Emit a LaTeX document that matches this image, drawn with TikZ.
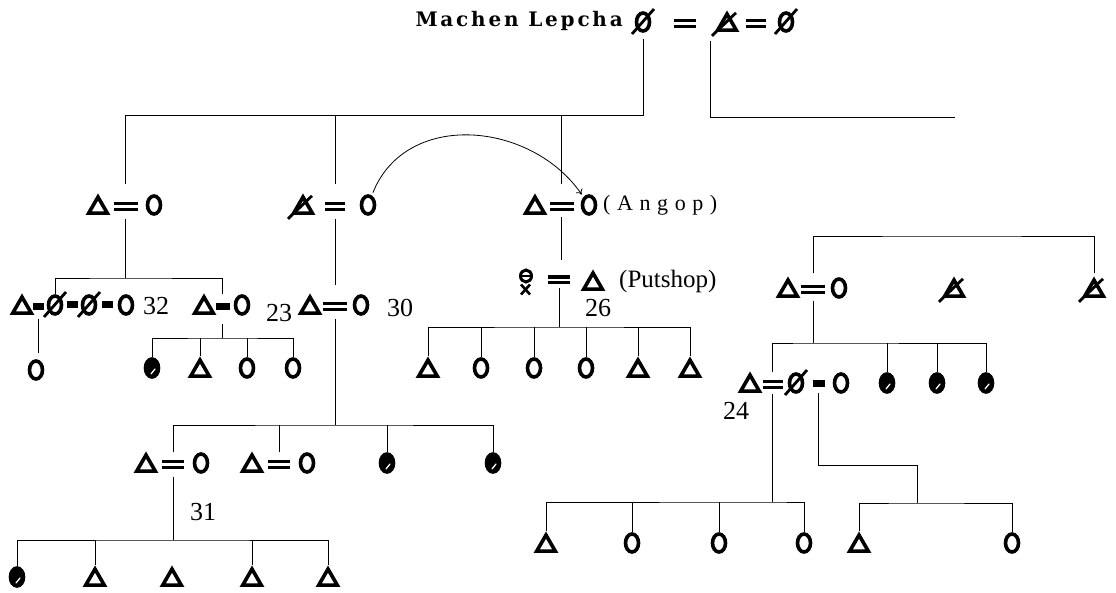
\documentclass[tikz,border=0pt]{standalone}
\usepackage{fontspec}
\setmainfont{Liberation Serif}
\newfontfamily\titlefont[LetterSpace=14]{DejaVu Serif}
\newfontfamily\widefont[LetterSpace=30]{Liberation Serif}
\usetikzlibrary{shapes.geometric,arrows.meta,calc}

\begin{document}
\begin{tikzpicture}[x=1pt,y=-1pt,
    kin/.style={line width=0.8pt},
    male/.style={draw, regular polygon, regular polygon sides=3, minimum size=21.5pt,
        inner sep=0pt, line width=3.6pt, yshift=-2.8pt},
    fem/.style={draw, ellipse, minimum width=13pt, minimum height=18pt,
        inner sep=0pt, line width=3.6pt},
    fdied/.style={fem, fill=black, path picture={\draw[white, line width=1.3pt, line cap=round]
        ([shift={(-1,6)}]path picture bounding box.center) -- ([shift={(3,1)}]path picture bounding box.center);}},
    slash/.style={line width=2.8pt},
    mdead/.style={male, append after command={([shift={(-15,11)}]\tikzlastnode.center)
        edge[slash] ([shift={(9,-12)}]\tikzlastnode.center)}},
    fdead/.style={fem, append after command={([shift={(-11,12)}]\tikzlastnode.center)
        edge[slash] ([shift={(11,-13)}]\tikzlastnode.center)}},
    pwife/.style={draw, ellipse, minimum width=11pt, minimum height=12pt, inner sep=0pt, line width=3pt,
        path picture={\draw[line width=1.8pt] ([xshift=-6pt]path picture bounding box.center)
            -- ([xshift=6pt]path picture bounding box.center);},
        append after command={([shift={(-5,1)}]\tikzlastnode.south) edge[line width=2.6pt] ([shift={(4,11)}]\tikzlastnode.south)
            ([shift={(4,1)}]\tikzlastnode.south) edge[line width=2.6pt] ([shift={(-5,11)}]\tikzlastnode.south)}},
    wed/.style={line width=3.3pt, double=white, double distance=2.4pt},
    wedb/.style={line width=7pt},
    num/.style={inner sep=0pt, font=\fontsize{26}{26}\selectfont},
    lbl/.style={inner sep=0pt, font=\widefont\fontsize{22}{22}\selectfont}]
\useasboundingbox (0,0) rectangle (1116,593);

% Machen Lepcha and his two wives
\node[inner sep=0pt, anchor=east, font=\titlefont\bfseries\fontsize{20}{20}\selectfont] (title) at (623,21) {Machen Lepcha};
\node[fdead] (mw1) at (643,22) {};
\node[mdead] (ml) at (727,22) {};
\node[fdead] (mw2) at (786,22) {};
\path (mw1) -- coordinate[midway] (m0a) (ml);
\path (ml) -- coordinate[midway] (m0b) (mw2);
\draw[wed] (m0a) +(-11,0) -- +(11,0);
\draw[wed] (m0b) +(-10,0) -- +(10,0);

% sons of the first wife
\node[male] (a1h) at (98,205) {};
\node[fem] (a1w) at (154,205) {};
\node[mdead] (a2h) at (303,205) {};
\node[fem] (a2w) at (368,205) {};
\node[male] (a3h) at (535,205) {};
\node[fem] (a3w) at (589,205) {};
\node[lbl, anchor=west] (angop) at (603,205) {(Angop)};
\path (a1h) -- coordinate[midway] (m1) (a1w);
\path (a2h) -- coordinate[midway] (m2) (a2w);
\path (a3h) -- coordinate[midway] (m3) (a3w);
\draw[wed] (m1) +(-12,0) -- +(12,0);
\draw[wed] (m2) +(-10,0) -- +(10,0);
\draw[wed] (m3) +(-12,0) -- +(12,0);
\draw[kin, -{To[length=5pt,width=8pt]}, shorten <=3pt, shorten >=3pt]
    (a2w) .. controls +(38,-95) and +(-58,-84) .. (a3w);

\coordinate (b0) at (643,115);
\draw[kin, shorten <=6pt, shorten >=22pt] (mw1) -- (b0) -| (m1);
\draw[kin, shorten >=22pt] (m2 |- b0) -- (m2);
\draw[kin, shorten >=22pt] (m3 |- b0) -- (m3);
\coordinate (b1a) at (710,117);
\coordinate (b1) at (955,117);
\draw[kin, shorten <=9pt] (b1a |- ml.south) -- (b1a) -- (b1);

% second generation
\node[male] (g1) at (22,305) {};
\node[fdead] (g2) at (55,305) {};
\node[fdead] (g3) at (89,305) {};
\node[fem] (g4) at (126,305) {};
\node[num] (n32) at (156,306) {32};
\path (g1) -- coordinate[midway] (m4a) (g2);
\path (g2) -- coordinate[midway] (m4b) (g3);
\path (g3) -- coordinate[midway] (m4c) (g4);
\draw[wedb] (m4a) +(-5.5,0) -- +(5.5,0);
\draw[wedb] (m4b) +(-5.5,0) -- +(5.5,0);
\draw[wedb] (m4c) +(-5.5,0) -- +(5.5,0);

\node[male] (h1) at (204,305) {};
\node[fem] (h2) at (242,305) {};
\node[num] (n23) at (279,313) {23};
\path (h1) -- coordinate[midway] (m5) (h2);
\draw[wedb] (m5) +(-7,0) -- +(7,0);

\node[male] (k1) at (310,305) {};
\node[fem] (k2) at (361,305) {};
\node[num] (n30) at (400,308) {30};
\path (k1) -- coordinate[midway] (m6) (k2);
\draw[wed] (m6) +(-12,0) -- +(12,0);

\node[pwife] (p1) at (526,276) {};
\node[male] (p2) at (593,281) {};
\node[lbl, font=\fontsize{25}{25}\selectfont, anchor=west] (putshop) at (619,281) {(Putshop)};
\node[num] (n26) at (598,308) {26};
\path (p1) -- coordinate[midway] (m9) (p2);
\draw[wed] (m9) +(-11,0) -- +(11,0);

\node[male] (r1) at (788,288) {};
\node[fem] (r2) at (839,288) {};
\node[mdead] (r3) at (954,288) {};
\node[mdead] (r4) at (1094,288) {};
\path (r1) -- coordinate[midway] (m10) (r2);
\draw[wed] (m10) +(-12,0) -- +(12,0);
\coordinate (bR) at (950,236);
\draw[kin, shorten <=16pt, shorten >=3pt] (m10) |- (bR) -| (r4);

\coordinate (b2) at (123,278);
\draw[kin, shorten <=13pt] (m1) -- (m1 |- b2);
\draw[kin, shorten >=12pt] (g2) |- (b2) -| (m5);
\draw[kin, shorten <=13pt, shorten >=21pt] (m2) -- (m2 |- m6);
\draw[kin, shorten <=11pt, shorten >=20pt] (m3) -- (m3 |- m9);

% third generation
\node[fem] (g1c) at (36,370) {};
\draw[kin, shorten <=13pt, shorten >=6pt] (m4a) -- (m4a |- g1c.north);

\node[fdied] (hc1) at (152,368) {};
\node[male] (hc2) at (200,368) {};
\node[fem] (hc3) at (247,368) {};
\node[fem] (hc4) at (293,368) {};
\coordinate (b3) at (223,338);
\draw[kin, shorten <=18pt] (m5) -- (m5 |- b3);
\draw[kin] (hc1) |- (b3) -| (hc4);
\draw[kin] (hc2) -- (hc2 |- b3);
\draw[kin] (hc3) -- (hc3 |- b3);

\node[male] (pk1) at (428,368) {};
\node[fem] (pk2) at (481,368) {};
\node[fem] (pk3) at (534,368) {};
\node[fem] (pk4) at (586,368) {};
\node[male] (pk5) at (638,368) {};
\node[male] (pk6) at (690,368) {};
\coordinate (b6) at (559,327);
\draw[kin, shorten <=8pt] (m9) -- (m9 |- b6);
\draw[kin] (pk1) |- (b6) -| (pk6);
\draw[kin] (pk2) -- (pk2 |- b6);
\draw[kin] (pk3) -- (pk3 |- b6);
\draw[kin] (pk4) -- (pk4 |- b6);
\draw[kin] (pk5) -- (pk5 |- b6);

\node[male] (q1) at (750,383) {};
\node[fdead] (q2) at (796,383) {};
\node[fem] (q3) at (841,383) {};
\node[fdied] (rc2) at (887,383) {};
\node[fdied] (rc3) at (937,383) {};
\node[fdied] (rc4) at (986,383) {};
\node[num] (n24) at (736,411) {24};
\path (q1) -- coordinate[midway] (m11) (q2);
\path (q2) -- coordinate[midway] (m12) (q3);
\draw[wed] (m11) +(-10,0) -- +(10,0);
\draw[wedb] (m12) +(-6,0) -- +(6,0);
\coordinate (b7) at (813,343);
\draw[kin, shorten <=12pt] (m10) -- (m10 |- b7);
\draw[kin, shorten <=12pt] (m11) |- (b7) -| (rc4);
\draw[kin] (rc2) -- (rc2 |- b7);
\draw[kin] (rc3) -- (rc3 |- b7);

\node[male] (e1) at (146,463) {};
\node[fem] (e2) at (201,463) {};
\node[male] (e3) at (252,463) {};
\node[fem] (e4) at (307,463) {};
\node[fdied] (e5) at (387,463) {};
\node[fdied] (e6) at (493,463) {};
\path (e1) -- coordinate[midway] (m7) (e2);
\path (e3) -- coordinate[midway] (m8) (e4);
\draw[wed] (m7) +(-11,0) -- +(11,0);
\draw[wed] (m8) +(-11,0) -- +(11,0);
\coordinate (b4) at (335,425);
\draw[kin, shorten <=13pt] (m6) -- (m6 |- b4);
\draw[kin, shorten <=12pt] (m7) |- (b4) -| (e6);
\draw[kin, shorten <=12pt] (m8) -- (m8 |- b4);
\draw[kin] (e5) -- (e5 |- b4);

% fourth generation
\node[fdied] (f1) at (17,577) {};
\node[male] (f2) at (95,577) {};
\node[male] (f3) at (172,577) {};
\node[male] (f4) at (252,577) {};
\node[male] (f5) at (328,577) {};
\node[num] (n31) at (203,512) {31};
\coordinate (b5) at (173,540);
\draw[kin, shorten <=13pt] (m7) -- (m7 |- b5);
\draw[kin] (f1) |- (b5) -| (f5);
\draw[kin] (f2) -- (f2 |- b5);
\draw[kin] (f4) -- (f4 |- b5);

\node[male] (s1) at (546,543) {};
\node[fem] (s2) at (632,543) {};
\node[fem] (s3) at (719,543) {};
\node[fem] (s4) at (804,543) {};
\coordinate (b8) at (770,502);
\draw[kin, shorten <=10pt] (m11) -- (m11 |- b8);
\draw[kin] (s1) |- (b8) -| (s4);
\draw[kin] (s2) -- (s2 |- b8);
\draw[kin] (s3) -- (s3 |- b8);

\node[male] (t1) at (859,543) {};
\node[fem] (t2) at (1012,543) {};
\coordinate (b9) at (917,465);
\coordinate (b10) at (917,503);
\draw[kin, shorten <=10pt] (m12) |- (b9) -- (b10);
\draw[kin] (t1) |- (b10) -| (t2);
\end{tikzpicture}
\end{document}
